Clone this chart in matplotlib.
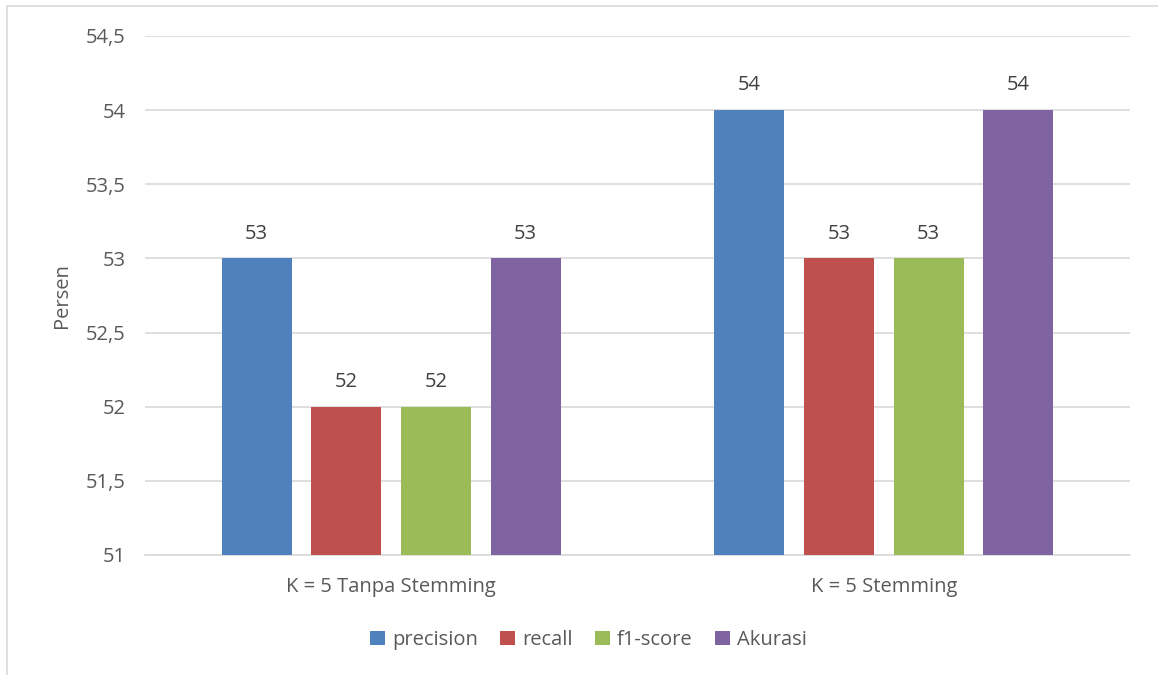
import matplotlib.pyplot as plt
import matplotlib.patches as mpatches
import numpy as np

categories = ["K = 5 Tanpa Stemming", "K = 5 Stemming"]
series = ["precision", "recall", "f1-score", "Akurasi"]
precision = [53, 54]
recall = [52, 53]
f1_score = [52, 53]
akurasi = [53, 54]
values = [precision, recall, f1_score, akurasi]
colors = ["#4f81bd", "#c0504d", "#9bbb59", "#8064a2"]
y_ticks = [51, 51.5, 52, 52.5, 53, 53.5, 54, 54.5]

plt.rcParams['font.family'] = ['Open Sans', 'DejaVu Sans']
txt = "#595959"
fs = 14.5

fig = plt.figure(figsize=(11.58, 6.75), dpi=100)
ax = fig.add_axes([0.1252, 0.1778, 0.8506, 0.7689])

# bingkai luar (kiri dan atas)
fig.add_artist(mpatches.Rectangle((7 / 1158, -0.1), 1.2, 1 - 6 / 675 + 0.1,
                                  transform=fig.transFigure, fill=False,
                                  edgecolor="#d9d9d9", lw=1.2))

x = np.arange(len(categories))
width = 0.142
step = 0.182
for i, (name, vals) in enumerate(zip(series, values)):
    pos = x + (i - 1.5) * step
    bars = ax.bar(pos, vals, width, color=colors[i], label=name, zorder=3)
    for b, v in zip(bars, vals):
        ax.text(b.get_x() + b.get_width() / 2, v + 0.1, str(v), ha="center",
                va="bottom", fontsize=fs, color="#404040")

ax.set_xlim(-0.5, 1.5)
ax.set_ylim(51, 54.5)
ax.set_yticks(y_ticks)
ax.set_yticklabels([("%g" % t).replace(".", ",") for t in y_ticks])
ax.set_xticks(x)
ax.set_xticklabels(categories)
ax.tick_params(axis="both", length=0, labelsize=fs, colors=txt)
ax.tick_params(axis="y", pad=14)
ax.tick_params(axis="x", pad=16)
ax.grid(axis="y", color="#d9d9d9", lw=1.2, zorder=0)
for s in ["left", "right", "top"]:
    ax.spines[s].set_visible(False)
ax.spines["bottom"].set_color("#d9d9d9")
ax.spines["bottom"].set_linewidth(1.2)
ax.set_ylabel("Persen", fontsize=fs, color=txt, labelpad=10)

leg = fig.legend(loc="center", bbox_to_anchor=(0.508, 1 - 640 / 675), ncol=4,
                 frameon=False, fontsize=fs, handlelength=0.75, handleheight=0.75,
                 handletextpad=0.35, columnspacing=1.1)
for t in leg.get_texts():
    t.set_color(txt)

fig.savefig("out.png", dpi=100)
